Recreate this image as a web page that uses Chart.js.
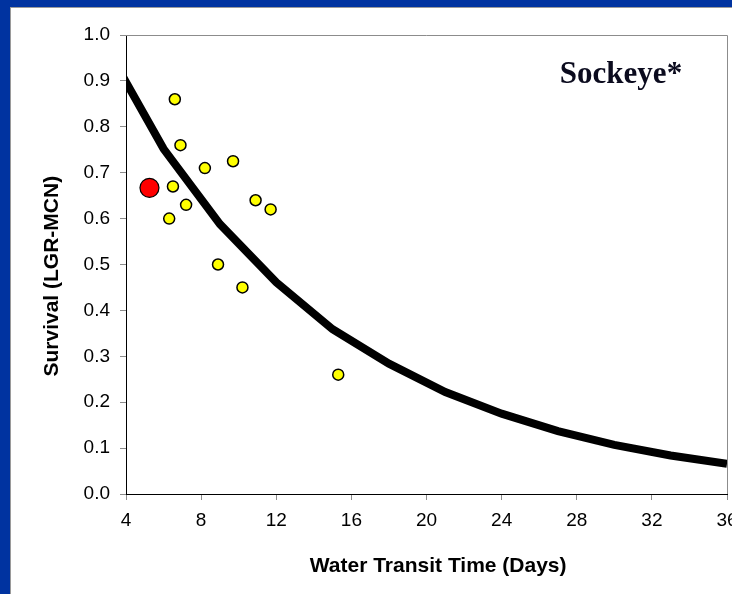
<!DOCTYPE html>
<html>
<head>
<meta charset="utf-8">
<script src="https://cdn.jsdelivr.net/npm/chart.js@4"></script>
<style>
  html, body { margin: 0; padding: 0; }
  body { width: 732px; height: 594px; background: #0033a0; overflow: hidden; position: relative; }
  .panel { position: absolute; left: 10px; top: 7px; width: 740px; height: 587px; background: #fff; border-left: 1px solid #9a9a9a; border-top: 1px solid #9a9a9a; box-sizing: border-box; }
  .panel canvas { display: block; }
</style>
</head>
<body>
<div class="panel"><canvas id="grafic"></canvas></div>
<script>
// yearly observations
const transitDays = [6.6, 6.9, 8.2, 9.7, 6.5, 7.2, 6.3, 10.9, 11.7, 8.9, 10.2, 15.3];
const survival = [0.86, 0.76, 0.71, 0.725, 0.67, 0.63, 0.60, 0.64, 0.62, 0.50, 0.45, 0.26];

// highlighted year
const highlightDays = [5.25];
const highlightSurvival = [0.667];

// fitted relationship
const curveDays = [3, 6, 9, 12, 15, 18, 21, 24, 27, 30, 33, 36];
const curveSurvival = [0.97, 0.752, 0.588, 0.461, 0.359, 0.284, 0.222, 0.175, 0.137, 0.107, 0.084, 0.066];

const xTicks = [4, 8, 12, 16, 20, 24, 28, 32, 36];
const chartLabel = 'Sockeye*';

const toPoints = (xs, ys) => xs.map((x, i) => ({ x: x, y: ys[i] }));

const sans = "'Liberation Sans', Arial, sans-serif";

// gray top/right frame + species label
const framePlugin = {
    id: 'frame',
    beforeDatasetsDraw(chart) {
        const { ctx, chartArea: a } = chart;
        ctx.save();
        ctx.strokeStyle = '#8c8c8c';
        ctx.lineWidth = 1;
        ctx.beginPath();
        ctx.moveTo(a.left, a.top + 0.5);
        ctx.lineTo(a.right + 0.5, a.top + 0.5);
        ctx.lineTo(a.right + 0.5, a.bottom);
        ctx.stroke();
        ctx.restore();
    },
    afterDraw(chart) {
        const { ctx, chartArea: a } = chart;
        ctx.save();
        ctx.font = "bold 31px 'Liberation Serif', 'Times New Roman', serif";
        ctx.fillStyle = '#0b0b1e';
        ctx.textAlign = 'center';
        ctx.textBaseline = 'alphabetic';
        ctx.fillText(chartLabel, a.right - 106, a.top + 48);
        ctx.restore();
    }
};

new Chart(document.getElementById('grafic').getContext('2d'), {
    type: 'scatter',
    data: {
        datasets: [
            {
                data: toPoints(highlightDays, highlightSurvival),
                pointRadius: 9.5,
                pointBackgroundColor: '#ff0000',
                pointBorderColor: '#000000',
                pointBorderWidth: 1.2,
                order: 0
            },
            {
                data: toPoints(transitDays, survival),
                pointRadius: 5.5,
                pointBackgroundColor: '#ffff00',
                pointBorderColor: '#000000',
                pointBorderWidth: 1.5,
                order: 1
            },
            {
                type: 'line',
                data: toPoints(curveDays, curveSurvival),
                borderColor: '#000000',
                borderWidth: 8,
                pointRadius: 0,
                tension: 0,
                fill: false,
                clip: 0,
                order: 2
            }
        ]
    },
    options: {
        responsive: true,
        maintainAspectRatio: false,
        animation: false,
        layout: { padding: { top: 27, right: 23, left: 0, bottom: 0 } },
        plugins: {
            legend: { display: false },
            tooltip: { enabled: false }
        },
        scales: {
            x: {
                type: 'linear',
                min: 4,
                max: 36,
                afterFit: scale => { scale.height = 100; },
                afterBuildTicks: scale => { scale.ticks = xTicks.map(v => ({ value: v })); },
                ticks: {
                    color: '#000',
                    padding: 9,
                    maxRotation: 0,
                    font: { family: sans, size: 19 }
                },
                grid: {
                    drawOnChartArea: false,
                    tickLength: 6,
                    color: '#8c8c8c'
                },
                border: { color: '#000', width: 1 },
                title: {
                    display: true,
                    // leading spaces nudge the centred title right, as in the original slide
                    text: '    Water Transit Time (Days)',
                    color: '#000',
                    font: { family: sans, size: 21, weight: 'bold' },
                    padding: { top: 0, bottom: 15 }
                }
            },
            y: {
                min: 0,
                max: 1,
                afterFit: scale => { scale.width = 115; },
                ticks: {
                    stepSize: 0.1,
                    color: '#000',
                    padding: 10,
                    font: { family: sans, size: 19 },
                    callback: v => v.toFixed(1)
                },
                grid: {
                    drawOnChartArea: false,
                    tickLength: 6,
                    color: '#8c8c8c'
                },
                border: { color: '#000', width: 1 },
                title: {
                    display: true,
                    text: 'Survival (LGR-MCN)    ',
                    color: '#000',
                    font: { family: sans, size: 21, weight: 'bold' },
                    padding: { top: 29, bottom: 0 }
                }
            }
        }
    },
    plugins: [framePlugin]
});
</script>
</body>
</html>
